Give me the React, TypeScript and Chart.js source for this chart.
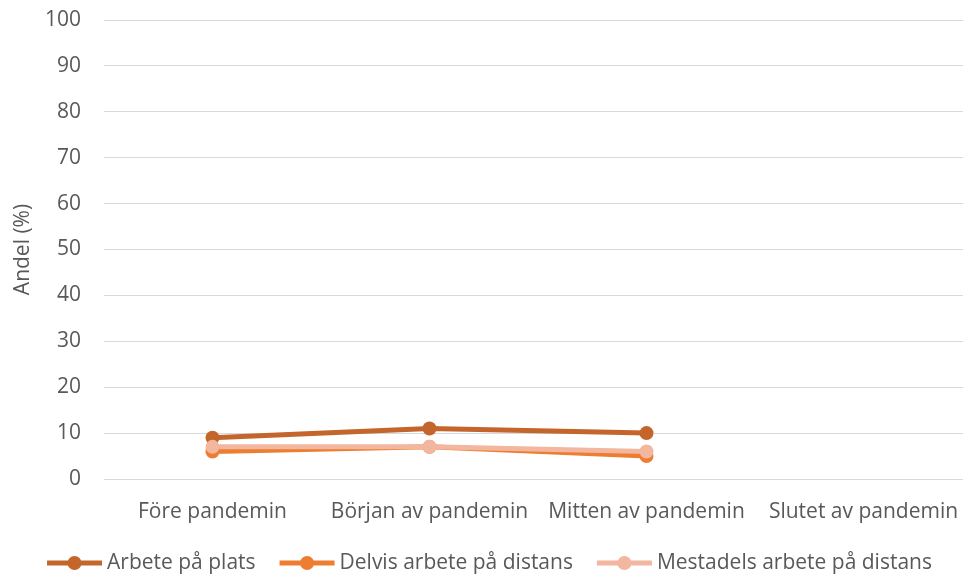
import React, { useEffect, useRef } from "react";
import { Chart, registerables } from "chart.js";

Chart.register(...registerables);

const categories = ["Före pandemin", "Början av pandemin", "Mitten av pandemin", "Slutet av pandemin"];
const arbetePaPlats = [9, 11, 10, null];
const delvisDistans = [6, 7, 5, null];
const mestadelsDistans = [7, 7, 6, null];
const seriesNames = ["Arbete på plats", "Delvis arbete på distans", "Mestadels arbete på distans"];
const seriesColors = ["#C4652B", "#ED7D31", "#F3B69E"];

const FONT = "'Open Sans', sans-serif";
const TEXT = "#595959";
const FS = 21;
const VIEW_W = 963;
const CANVAS_W = 979;
const H = 578;

const legendPlugin = {
  id: "lineLegend",
  afterDraw(chart: any) {
    const ctx = chart.ctx as CanvasRenderingContext2D;
    ctx.save();
    ctx.font = `${FS}px ${FONT}`;
    const lineW = 55;
    const gap = 5;
    const itemGap = 24;
    const items = chart.data.datasets.map((d: any) => ({
      label: d.label as string,
      color: d.borderColor as string,
      w: ctx.measureText(d.label).width,
    }));
    const total = items.reduce((s: number, it: any) => s + lineW + gap + it.w, 0) + itemGap * (items.length - 1);
    let x = (VIEW_W - total) / 2 + 8;
    const y = 563;
    for (const it of items) {
      ctx.strokeStyle = it.color;
      ctx.lineWidth = 5;
      ctx.beginPath();
      ctx.moveTo(x, y);
      ctx.lineTo(x + lineW, y);
      ctx.stroke();
      ctx.fillStyle = it.color;
      ctx.beginPath();
      ctx.arc(x + lineW / 2, y, 7, 0, Math.PI * 2);
      ctx.fill();
      ctx.fillStyle = TEXT;
      ctx.textBaseline = "middle";
      ctx.textAlign = "left";
      ctx.fillText(it.label, x + lineW + gap, y);
      x += lineW + gap + it.w + itemGap;
    }
    ctx.restore();
  },
};

export default function App() {
  const ref = useRef<HTMLCanvasElement>(null);
  useEffect(() => {
    if (!ref.current) return;
    const data = [arbetePaPlats, delvisDistans, mestadelsDistans];
    const chart = new Chart(ref.current, {
      type: "line",
      data: {
        labels: categories,
        datasets: seriesNames.map((name, i) => ({
          label: name,
          data: data[i],
          order: seriesNames.length - i,
          borderColor: seriesColors[i],
          backgroundColor: seriesColors[i],
          borderWidth: 5,
          pointRadius: 7,
          pointHoverRadius: 7,
          pointBorderWidth: 0,
          pointBackgroundColor: seriesColors[i],
          tension: 0,
          spanGaps: false,
        })),
      },
      options: {
        animation: false,
        responsive: false,
        maintainAspectRatio: false,
        layout: { padding: { top: 20, right: 0, left: 0, bottom: 0 } },
        plugins: { legend: { display: false }, tooltip: { enabled: false } },
        scales: {
          x: {
            offset: true,
            grid: { display: false, drawTicks: false },
            border: { display: false },
            ticks: { color: TEXT, font: { family: FONT, size: FS }, padding: 20, maxRotation: 0 },
            afterFit: (s: any) => {
              s.height = 99;
              s.paddingLeft = 0;
              s.paddingRight = 0;
            },
          },
          y: {
            min: 0,
            max: 100,
            ticks: { stepSize: 10, color: TEXT, font: { family: FONT, size: FS }, padding: 23 },
            grid: { color: "#D9D9D9", lineWidth: 1, drawTicks: false },
            border: { display: false },
            title: {
              display: true,
              text: "Andel (%)",
              color: TEXT,
              font: { family: FONT, size: FS },
              padding: { top: 10, bottom: 0 },
            },
            afterFit: (s: any) => {
              s.width = 104;
              s.paddingTop = 0;
              s.paddingBottom = 0;
            },
          },
        },
      },
      plugins: [legendPlugin],
    });
    return () => chart.destroy();
  }, []);
  return (
    <div style={{ position: "absolute", left: 0, top: 0, width: VIEW_W, height: H, overflow: "hidden" }}>
      <canvas ref={ref} width={CANVAS_W} height={H} style={{ width: CANVAS_W, height: H, display: "block" }} />
    </div>
  );
}
